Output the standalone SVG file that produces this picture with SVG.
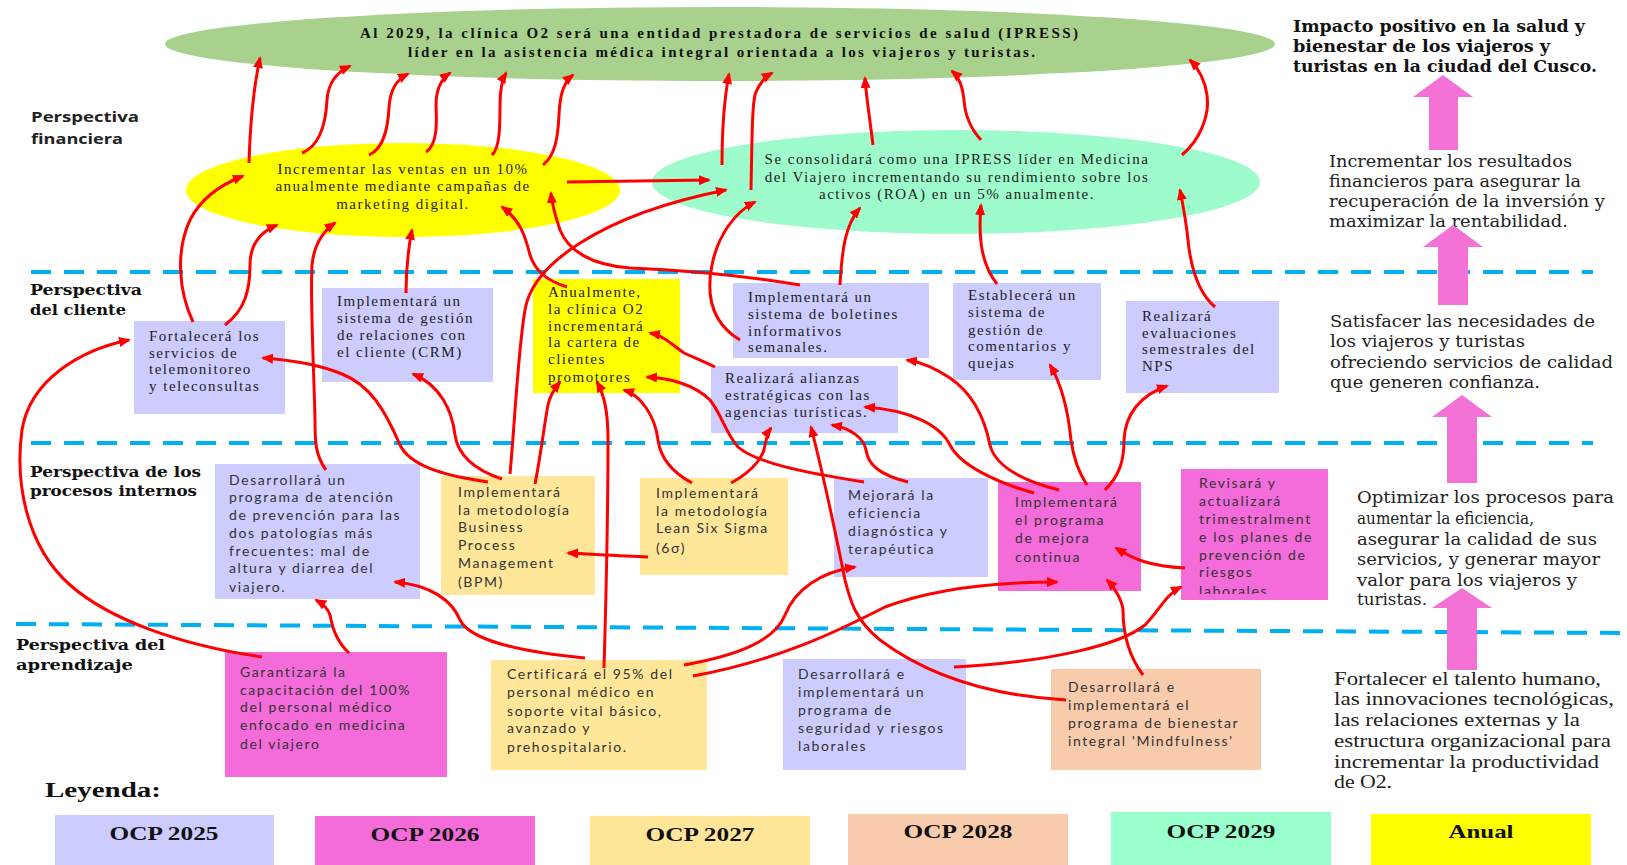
<svg xmlns="http://www.w3.org/2000/svg" width="1627" height="865" viewBox="0 0 1627 865">
<defs>
<style>
.lav{fill:#CCCCFF}
.pink{fill:#F46BDA}
.gold{fill:#FFE699}
.peach{fill:#F8CBAD}
.mint{fill:#9EFBCC}
.yel{fill:#FFFF00}
.t{font-family:"Liberation Serif","Times New Roman",serif;font-size:15px;letter-spacing:1.5px;fill:#222}
.s{font-family:Lato,"Liberation Sans",sans-serif;font-size:14px;letter-spacing:1.6px;fill:#333}
.pl{font-family:"DejaVu Serif","Liberation Serif",serif;font-size:15px;font-weight:bold;fill:#111}
.rc{font-family:"DejaVu Serif","Liberation Serif",serif;font-size:16px;fill:#222}
.rt{font-family:"Liberation Serif","Times New Roman",serif;font-size:18px;fill:#222}
.lg{font-family:"Liberation Serif","Times New Roman",serif;font-size:19px;font-weight:bold;fill:#111;text-anchor:middle}
.dash{stroke:#00B0F0;stroke-width:4;stroke-dasharray:20 13;fill:none}
.c{fill:none;stroke:#FF0000;stroke-width:3;marker-end:url(#ah)}
.blk{fill:#F472D6}
</style>
<marker id="ah" viewBox="0 0 12 10" refX="10" refY="5" markerWidth="12" markerHeight="10" markerUnits="userSpaceOnUse" orient="auto">
<path d="M0,0 L12,5 L0,10 z" fill="#FF0000"/>
</marker>
<clipPath id="revclip"><rect x="1181" y="469" width="147" height="125"/></clipPath>
</defs>
<rect x="0" y="0" width="1627" height="865" fill="#FFFFFF"/>

<!-- dashed separators -->
<g id="separators">
<line class="dash" x1="31" y1="272" x2="1593" y2="272"/>
<line class="dash" x1="31" y1="443" x2="1593" y2="443"/>
<line class="dash" x1="16" y1="624" x2="1627" y2="633"/>
</g>

<!-- perspective labels -->
<g id="labels">
<text x="31" y="122" font-family="'Open Sans','Liberation Sans',sans-serif" font-size="15" font-weight="bold" fill="#222" textLength="108" lengthAdjust="spacingAndGlyphs">Perspectiva</text>
<text x="31" y="144" font-family="'Open Sans','Liberation Sans',sans-serif" font-size="15" font-weight="bold" fill="#222" textLength="92" lengthAdjust="spacingAndGlyphs">financiera</text>
<text class="pl" x="30" y="295" textLength="112" lengthAdjust="spacingAndGlyphs">Perspectiva</text>
<text class="pl" x="30" y="315" textLength="96" lengthAdjust="spacingAndGlyphs">del cliente</text>
<text class="pl" x="30" y="477" textLength="171" lengthAdjust="spacingAndGlyphs">Perspectiva de los</text>
<text class="pl" x="30" y="496" textLength="167" lengthAdjust="spacingAndGlyphs">procesos internos</text>
<text class="pl" x="16" y="650" textLength="149" lengthAdjust="spacingAndGlyphs">Perspectiva del</text>
<text class="pl" x="16" y="670" textLength="117" lengthAdjust="spacingAndGlyphs">aprendizaje</text>
</g>

<!-- vision -->
<g id="vision">
<ellipse cx="720" cy="44" rx="555" ry="37" fill="#A9D18E"/>
<text x="360" y="38" font-family="'Liberation Serif',serif" font-size="15" font-weight="bold" fill="#111" textLength="718" lengthAdjust="spacing">Al 2029, la clínica O2 será una entidad prestadora de servicios de salud (IPRESS)</text>
<text x="408" y="57" font-family="'Liberation Serif',serif" font-size="15" font-weight="bold" fill="#111" textLength="627" lengthAdjust="spacing">líder en la asistencia médica integral orientada a los viajeros y turistas.</text>
</g>

<!-- financial -->
<g id="fin-ventas">
<ellipse class="yel" cx="403" cy="190" rx="217" ry="47"/>
<text class="t" x="403" y="174" text-anchor="middle">Incrementar las ventas en un 10%</text>
<text class="t" x="403" y="191" text-anchor="middle">anualmente mediante campañas de</text>
<text class="t" x="403" y="209" text-anchor="middle">marketing digital.</text>
</g>
<g id="fin-roa">
<ellipse class="mint" cx="956" cy="182" rx="304" ry="52"/>
<text class="t" x="957" y="164" text-anchor="middle">Se consolidará como una IPRESS líder en Medicina</text>
<text class="t" x="957" y="182" text-anchor="middle">del Viajero incrementando su rendimiento sobre los</text>
<text class="t" x="957" y="199" text-anchor="middle">activos (ROA) en un 5% anualmente.</text>
</g>

<!-- client -->
<g id="cli-tele">
<rect class="lav" x="134" y="321" width="151" height="93"/>
<text class="t" x="149" y="341">Fortalecerá los</text>
<text class="t" x="149" y="358">servicios de</text>
<text class="t" x="149" y="374">telemonitoreo</text>
<text class="t" x="149" y="391">y teleconsultas</text>
</g>
<g id="cli-crm">
<rect class="lav" x="322" y="288" width="171" height="94"/>
<text class="t" x="337" y="306">Implementará un</text>
<text class="t" x="337" y="323">sistema de gestión</text>
<text class="t" x="337" y="340">de relaciones con</text>
<text class="t" x="337" y="357">el cliente (CRM)</text>
</g>
<g id="cli-cartera">
<rect class="yel" x="533" y="279" width="147" height="114"/>
<text class="t" x="548" y="297">Anualmente,</text>
<text class="t" x="548" y="314">la clínica O2</text>
<text class="t" x="548" y="331">incrementará</text>
<text class="t" x="548" y="347">la cartera de</text>
<text class="t" x="548" y="364">clientes</text>
<text class="t" x="548" y="382">promotores</text>
</g>
<g id="cli-boletines">
<rect class="lav" x="733" y="283" width="196" height="75"/>
<text class="t" x="748" y="302">Implementará un</text>
<text class="t" x="748" y="319">sistema de boletines</text>
<text class="t" x="748" y="336">informativos</text>
<text class="t" x="748" y="352">semanales.</text>
</g>
<g id="cli-alianzas">
<rect class="lav" x="711" y="366" width="187" height="67"/>
<text class="t" x="725" y="383">Realizará alianzas</text>
<text class="t" x="725" y="400">estratégicas con las</text>
<text class="t" x="725" y="417">agencias turísticas.</text>
</g>
<g id="cli-quejas">
<rect class="lav" x="953" y="283" width="148" height="97"/>
<text class="t" x="968" y="300">Establecerá un</text>
<text class="t" x="968" y="317">sistema de</text>
<text class="t" x="968" y="335">gestión de</text>
<text class="t" x="968" y="351">comentarios y</text>
<text class="t" x="968" y="368">quejas</text>
</g>
<g id="cli-nps">
<rect class="lav" x="1126" y="301" width="153" height="92"/>
<text class="t" x="1142" y="321">Realizará</text>
<text class="t" x="1142" y="338">evaluaciones</text>
<text class="t" x="1142" y="354">semestrales del</text>
<text class="t" x="1142" y="371">NPS</text>
</g>

<!-- internal processes -->
<g id="pro-prevencion">
<rect class="lav" x="215" y="464" width="205" height="135"/>
<text class="s" x="229" y="485">Desarrollará un</text>
<text class="s" x="229" y="502">programa de atención</text>
<text class="s" x="229" y="520">de prevención para las</text>
<text class="s" x="229" y="538">dos patologías más</text>
<text class="s" x="229" y="556">frecuentes: mal de</text>
<text class="s" x="229" y="573">altura y diarrea del</text>
<text class="s" x="229" y="592">viajero.</text>
</g>
<g id="pro-bpm">
<rect class="gold" x="441" y="476" width="154" height="119"/>
<text class="s" x="458" y="497">Implementará</text>
<text class="s" x="458" y="515">la metodología</text>
<text class="s" x="458" y="532">Business</text>
<text class="s" x="458" y="550">Process</text>
<text class="s" x="458" y="568">Management</text>
<text class="s" x="458" y="587">(BPM)</text>
</g>
<g id="pro-lean">
<rect class="gold" x="640" y="478" width="148" height="97"/>
<text class="s" x="656" y="498">Implementará</text>
<text class="s" x="656" y="516">la metodología</text>
<text class="s" x="656" y="533">Lean Six Sigma</text>
<text class="s" x="656" y="553">(6σ)</text>
</g>
<g id="pro-eficiencia">
<rect class="lav" x="834" y="478" width="154" height="99"/>
<text class="s" x="848" y="500">Mejorará la</text>
<text class="s" x="848" y="518">eficiencia</text>
<text class="s" x="848" y="536">diagnóstica y</text>
<text class="s" x="848" y="554">terapéutica</text>
</g>
<g id="pro-mejora">
<rect class="pink" x="998" y="482" width="143" height="109"/>
<text class="s" x="1015" y="507">Implementará</text>
<text class="s" x="1015" y="525">el programa</text>
<text class="s" x="1015" y="543">de mejora</text>
<text class="s" x="1015" y="562">continua</text>
</g>
<g id="pro-riesgos">
<rect class="pink" x="1181" y="469" width="147" height="131"/>
<g clip-path="url(#revclip)">
<text class="s" x="1199" y="488">Revisará y</text>
<text class="s" x="1199" y="506">actualizará</text>
<text class="s" x="1199" y="524">trimestralment</text>
<text class="s" x="1199" y="542">e los planes de</text>
<text class="s" x="1199" y="560">prevención de</text>
<text class="s" x="1199" y="577">riesgos</text>
<text class="s" x="1199" y="596">laborales</text>
</g>
</g>

<!-- learning -->
<g id="apr-capacitacion">
<rect class="pink" x="225" y="652" width="222" height="125"/>
<text class="s" x="240" y="677">Garantizará la</text>
<text class="s" x="240" y="695">capacitación del 100%</text>
<text class="s" x="240" y="712">del personal médico</text>
<text class="s" x="240" y="730">enfocado en medicina</text>
<text class="s" x="240" y="749">del viajero</text>
</g>
<g id="apr-certificacion">
<rect class="gold" x="491" y="660" width="216" height="110"/>
<text class="s" x="507" y="679">Certificará el 95% del</text>
<text class="s" x="507" y="697">personal médico en</text>
<text class="s" x="507" y="716">soporte vital básico,</text>
<text class="s" x="507" y="733">avanzado y</text>
<text class="s" x="507" y="752">prehospitalario.</text>
</g>
<g id="apr-seguridad">
<rect class="lav" x="783" y="659" width="183" height="111"/>
<text class="s" x="798" y="679">Desarrollará e</text>
<text class="s" x="798" y="697">implementará un</text>
<text class="s" x="798" y="715">programa de</text>
<text class="s" x="798" y="733">seguridad y riesgos</text>
<text class="s" x="798" y="751">laborales</text>
</g>
<g id="apr-mindfulness">
<rect class="peach" x="1051" y="669" width="210" height="101"/>
<text class="s" x="1068" y="692">Desarrollará e</text>
<text class="s" x="1068" y="710">implementará el</text>
<text class="s" x="1068" y="728">programa de bienestar</text>
<text class="s" x="1068" y="746">integral 'Mindfulness'</text>
</g>

<!-- right column -->
<g id="right-impacto">
<text x="1293" y="32" font-family="'DejaVu Serif',serif" font-size="16" font-weight="bold" fill="#111" textLength="292" lengthAdjust="spacingAndGlyphs">Impacto positivo en la salud y</text>
<text x="1293" y="52" font-family="'DejaVu Serif',serif" font-size="16" font-weight="bold" fill="#111" textLength="257" lengthAdjust="spacingAndGlyphs">bienestar de los viajeros y</text>
<text x="1293" y="72" font-family="'DejaVu Serif',serif" font-size="16" font-weight="bold" fill="#111" textLength="304" lengthAdjust="spacingAndGlyphs">turistas en la ciudad del Cusco.</text>
</g>
<g id="right-financiera">
<text class="rc" x="1329" y="167" textLength="243" lengthAdjust="spacingAndGlyphs">Incrementar los resultados</text>
<text class="rc" x="1329" y="187" textLength="252" lengthAdjust="spacingAndGlyphs">financieros para asegurar la</text>
<text class="rc" x="1329" y="207" textLength="276" lengthAdjust="spacingAndGlyphs">recuperación de la inversión y</text>
<text class="rc" x="1329" y="227" textLength="239" lengthAdjust="spacingAndGlyphs">maximizar la rentabilidad.</text>
</g>
<g id="right-cliente">
<text class="rc" x="1330" y="327" textLength="265" lengthAdjust="spacingAndGlyphs">Satisfacer las necesidades de</text>
<text class="rc" x="1330" y="347" textLength="195" lengthAdjust="spacingAndGlyphs">los viajeros y turistas</text>
<text class="rc" x="1330" y="368" textLength="283" lengthAdjust="spacingAndGlyphs">ofreciendo servicios de calidad</text>
<text class="rc" x="1330" y="388" textLength="210" lengthAdjust="spacingAndGlyphs">que generen confianza.</text>
</g>
<g id="right-procesos">
<text class="rc" x="1357" y="503" textLength="257" lengthAdjust="spacingAndGlyphs">Optimizar los procesos para</text>
<text class="rc" x="1357" y="524" textLength="177" lengthAdjust="spacingAndGlyphs">aumentar la eficiencia,</text>
<text class="rc" x="1357" y="545" textLength="240" lengthAdjust="spacingAndGlyphs">asegurar la calidad de sus</text>
<text class="rc" x="1357" y="565" textLength="243" lengthAdjust="spacingAndGlyphs">servicios, y generar mayor</text>
<text class="rc" x="1357" y="586" textLength="220" lengthAdjust="spacingAndGlyphs">valor para los viajeros y</text>
<text class="rc" x="1357" y="605" textLength="70" lengthAdjust="spacingAndGlyphs">turistas.</text>
</g>
<g id="right-aprendizaje">
<text class="rt" x="1334" y="685" textLength="267" lengthAdjust="spacingAndGlyphs">Fortalecer el talento humano,</text>
<text class="rt" x="1334" y="705" textLength="280" lengthAdjust="spacingAndGlyphs">las innovaciones tecnológicas,</text>
<text class="rt" x="1334" y="726" textLength="246" lengthAdjust="spacingAndGlyphs">las relaciones externas y la</text>
<text class="rt" x="1334" y="747" textLength="277" lengthAdjust="spacingAndGlyphs">estructura organizacional para</text>
<text class="rt" x="1334" y="768" textLength="265" lengthAdjust="spacingAndGlyphs">incrementar la productividad</text>
<text class="rt" x="1334" y="788" textLength="58" lengthAdjust="spacingAndGlyphs">de O2.</text>
</g>
<g id="right-arrows">
<polygon class="blk" points="1443,75 1473,97 1458,97 1458,150 1429,150 1429,97 1413,97"/>
<polygon class="blk" points="1453,225 1483,247 1468,247 1468,305 1438,305 1438,247 1423,247"/>
<polygon class="blk" points="1462,395 1492,417 1477,417 1477,483 1447,483 1447,417 1432,417"/>
<polygon class="blk" points="1462,588 1492,608 1477,608 1477,670 1447,670 1447,608 1432,608"/>
</g>

<!-- connectors -->
<g id="connectors">
<path class="c" d="M249,163 C250,130 253,90 260,58"/>
<path class="c" d="M302,153 C322,145 326,120 327,100 C328,85 335,73 350,66"/>
<path class="c" d="M369,155 C385,148 388,125 389,108 C390,90 396,80 408,74"/>
<path class="c" d="M426,152 C437,145 437,125 436,105 C436,90 440,80 450,73"/>
<path class="c" d="M492,155 C500,148 500,125 500,105 C500,90 502,80 506,73"/>
<path class="c" d="M543,165 C556,155 558,135 559,115 C560,95 563,83 573,75"/>
<path class="c" d="M722,165 C722,130 724,100 729,74"/>
<path class="c" d="M751,190 C752,140 752,100 756,92 C760,83 765,77 772,73"/>
<path class="c" d="M873,145 C870,120 866,95 865,78"/>
<path class="c" d="M981,140 C970,128 965,115 964,100 C963,88 960,78 952,71"/>
<path class="c" d="M1182,155 C1200,140 1210,115 1207,95 C1205,80 1198,68 1190,60"/>

<path class="c" d="M193,322 C178,290 176,250 190,220 C200,200 220,185 243,176"/>
<path class="c" d="M225,325 C245,310 250,290 250,265 C250,245 260,232 277,225"/>
<path class="c" d="M326,470 C315,455 315,440 315,420 C314,370 310,300 312,265 C314,245 322,232 335,223"/>
<path class="c" d="M406,293 C406,270 408,250 412,230"/>
<path class="c" d="M567,287 C545,280 535,270 530,255 C525,235 520,220 502,207"/>
<path class="c" d="M800,285 C740,275 680,270 630,268 C590,265 568,250 560,230 C555,215 552,205 551,193"/>
<path class="c" d="M567,182 L709,180"/>
<path class="c" d="M510,474 C515,420 518,350 525,310 C532,265 600,215 726,190"/>
<path class="c" d="M740,340 C715,325 705,300 712,265 C718,235 735,212 755,202"/>
<path class="c" d="M840,285 C842,250 845,225 860,208"/>
<path class="c" d="M997,284 C982,265 978,240 981,205"/>
<path class="c" d="M1215,307 C1195,290 1190,260 1188,240 C1186,220 1183,205 1180,190"/>

<path class="c" d="M262,657 C180,645 110,620 70,585 C25,545 15,480 22,430 C30,380 80,350 129,340"/>
<path class="c" d="M488,482 C440,475 410,465 400,445 C385,410 370,385 342,374 C318,364 290,360 263,358"/>
<path class="c" d="M502,479 C475,470 458,455 455,435 C452,410 440,385 413,374"/>
<path class="c" d="M535,484 C540,460 545,420 548,405 C550,395 555,388 560,382"/>
<path class="c" d="M604,668 C606,600 608,500 608,440 C608,410 604,395 597,382"/>
<path class="c" d="M692,483 C668,470 660,455 658,440 C655,415 640,395 624,390"/>
<path class="c" d="M864,482 C800,472 755,462 738,447 C725,432 722,415 710,400 C695,385 670,378 647,377"/>
<path class="c" d="M715,367 C705,362 695,358 684,353 C672,345 665,336 650,333"/>
<path class="c" d="M1034,493 C995,482 960,465 950,445 C940,425 910,410 865,407"/>
<path class="c" d="M731,483 C755,470 764,455 765,445 C766,440 768,432 771,428"/>
<path class="c" d="M1066,700 C980,695 920,670 880,640 C855,620 850,600 845,580 C835,530 822,470 811,427"/>
<path class="c" d="M908,482 C880,475 868,465 866,450 C864,438 850,428 832,425"/>
<path class="c" d="M1059,490 C1020,480 995,465 990,445 C985,420 975,395 950,378 C935,368 920,362 907,360"/>
<path class="c" d="M1087,485 C1077,470 1073,455 1071,440 C1068,410 1062,385 1050,365"/>
<path class="c" d="M1105,490 C1120,475 1124,460 1124,440 C1125,415 1140,395 1167,386"/>

<path class="c" d="M1185,568 C1150,566 1135,560 1116,548"/>
<path class="c" d="M693,676 C780,660 840,630 885,607 C930,590 990,582 1057,582"/>
<path class="c" d="M684,665 C740,655 775,640 785,615 C795,590 820,572 855,567"/>
<path class="c" d="M1143,675 C1128,655 1123,630 1123,610 C1122,600 1115,588 1107,580"/>
<path class="c" d="M954,667 C1050,662 1120,645 1145,625 C1160,610 1165,595 1181,587"/>
<path class="c" d="M648,557 C620,556 590,554 568,553"/>
<path class="c" d="M585,658 C520,652 470,640 460,620 C452,600 430,585 395,582"/>
<path class="c" d="M349,653 C335,640 332,625 330,615 C328,608 323,604 316,600"/>
</g>

<!-- legend -->
<g id="legend">
<text x="45" y="797" font-family="'Liberation Serif',serif" font-size="22" font-weight="bold" fill="#111" textLength="116" lengthAdjust="spacingAndGlyphs">Leyenda:</text>
<rect class="lav" x="55" y="815" width="219" height="50"/>
<text class="lg" x="164" y="840" textLength="109" lengthAdjust="spacingAndGlyphs">OCP 2025</text>
<rect class="pink" x="315" y="816" width="220" height="49"/>
<text class="lg" x="425" y="841" textLength="109" lengthAdjust="spacingAndGlyphs">OCP 2026</text>
<rect class="gold" x="590" y="816" width="220" height="49"/>
<text class="lg" x="700" y="841" textLength="109" lengthAdjust="spacingAndGlyphs">OCP 2027</text>
<rect class="peach" x="848" y="814" width="220" height="51"/>
<text class="lg" x="958" y="838" textLength="109" lengthAdjust="spacingAndGlyphs">OCP 2028</text>
<rect x="1111" y="812" width="220" height="53" fill="#99FFCC"/>
<text class="lg" x="1221" y="838" textLength="109" lengthAdjust="spacingAndGlyphs">OCP 2029</text>
<rect class="yel" x="1371" y="814" width="220" height="51"/>
<text class="lg" x="1481" y="838" textLength="65" lengthAdjust="spacingAndGlyphs">Anual</text>
</g>
</svg>
